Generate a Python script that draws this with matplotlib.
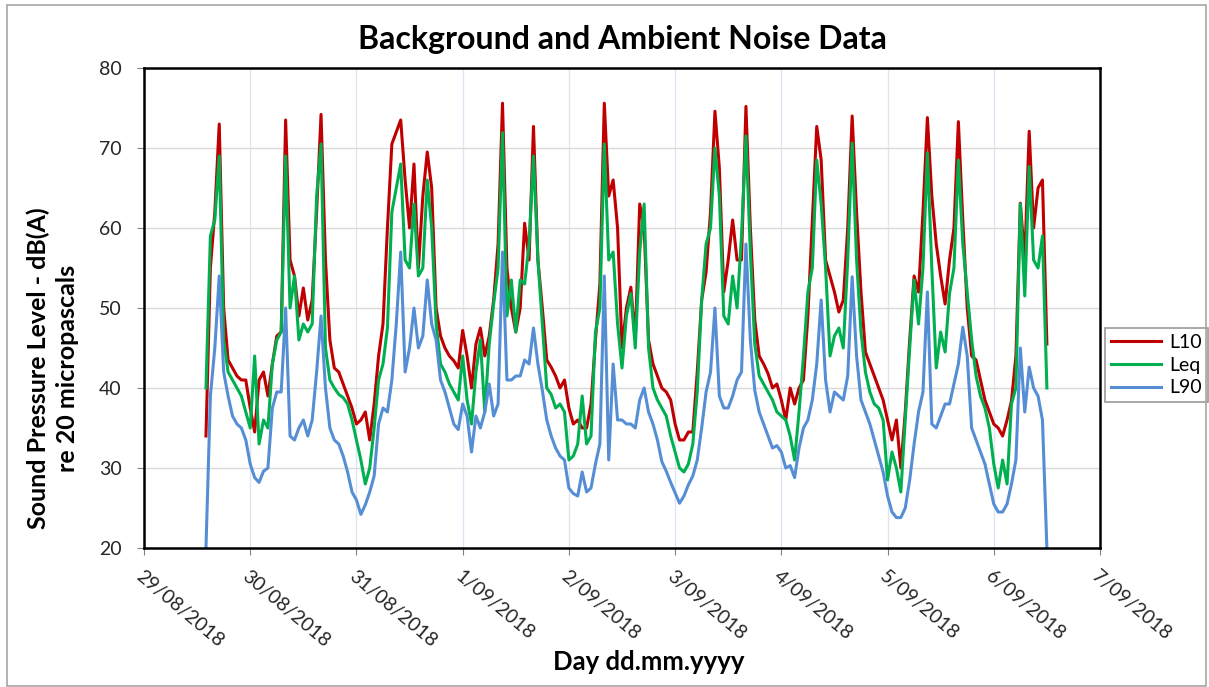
import numpy as np
import pandas as pd
import matplotlib
matplotlib.use("Agg")
import matplotlib.pyplot as plt
import matplotlib.dates as mdates
from matplotlib.ticker import FuncFormatter
from matplotlib.patches import Rectangle

plt.rcParams['font.family'] = ['Lato', 'DejaVu Sans']

# hourly levels, 29/08/2018 14:00 -> 6/09/2018 12:00
start = '2018-08-29 14:00'

l10 = [34, 55, 62, 73, 50, 43.5, 42.5, 41.5, 41, 41,
       37.5, 34.5, 41, 42, 39, 43, 46.5, 47, 73.5, 56, 54, 49,
       52.5, 48.5, 51, 62, 74.2, 56, 46, 42.5, 42, 40.5, 39, 37.5,
       35.5, 36, 37, 33.5, 38, 44, 48, 60, 70.5, 72, 73.5, 66,
       60, 68, 55, 64, 69.5, 65, 50, 46.5, 45, 44, 43.4, 42.5,
       47.2, 44, 40, 45.5, 47.5, 44, 46.5, 51, 58, 75.6, 55, 50,
       47, 50, 60.6, 56, 72.7, 56, 50, 43.5, 42.6, 41.5, 40, 41,
       37.5, 35.5, 36, 35, 35, 38, 46, 53, 75.6, 64, 66, 60,
       45, 50, 52.6, 46, 63, 60, 46, 43, 41.5, 40, 39.5, 38.5,
       35.5, 33.5, 33.5, 34.5, 34.5, 42, 51, 54.5, 62, 74.6, 67.5, 52,
       56, 61, 56, 56, 75.2, 60, 48.5, 44, 43, 41.8, 40, 40.5,
       38.5, 36, 40, 38, 40, 41, 49, 61, 72.7, 68.5, 56, 54,
       52, 49.5, 51, 60, 74, 62, 52, 44.5, 43, 41.5, 40, 38.5,
       36, 33.5, 36, 30, 37, 46, 54, 52, 62, 73.8, 64, 58,
       54, 50.5, 56, 60, 73.3, 61, 50, 44, 43.5, 41, 38.5, 37,
       35.5, 35, 34, 36, 38.4, 44, 63.1, 56, 72.1, 60, 65, 66, 45.5]

leq = [40, 59, 61, 69, 46, 42, 41, 40, 39, 37,
       35, 44, 33, 36, 35, 43, 46, 47, 69, 50, 54, 46,
       48, 47, 48, 64, 70.5, 45, 41, 40, 39.2, 38.8, 38, 36,
       33.5, 31, 28, 30, 35, 41, 43, 47.5, 62, 65, 68, 56,
       55, 63, 54, 55, 66, 60, 48, 43, 42, 40.5, 39.5, 38.5,
       44, 38.5, 35.5, 42, 46, 37, 45.5, 50.5, 55, 71.9, 49, 53.5,
       47, 53.5, 53, 58, 69, 56, 48, 40, 39.2, 37.5, 38, 37,
       31, 31.5, 33, 39, 33, 34, 47, 50, 70.5, 56, 57, 48,
       42.5, 49, 51.8, 45, 57, 63, 45, 40, 38.5, 37.5, 36.5, 34,
       32, 30, 29.5, 30.5, 33, 39.5, 51, 58, 60, 70, 64, 49,
       48, 54, 50, 59, 71.5, 57, 45.5, 41.5, 40.5, 39.5, 38.5, 37,
       36.5, 36, 34, 31, 37, 44, 52, 55, 68.5, 63, 55, 44,
       46.5, 47.5, 45, 56, 70.6, 56, 47, 42, 39.5, 38, 37.5, 36,
       28.5, 32, 30, 27, 36, 45, 53.5, 48, 55, 69.4, 55, 42.5,
       47, 44.5, 51.8, 55, 68.5, 58, 52, 46, 41.5, 39, 37.5, 35,
       30.5, 27.5, 31, 28, 38, 40, 63, 51.5, 67.7, 56, 55, 59, 40]

l90 = [20, 39, 45, 54, 42, 39, 36.5, 35.5, 35, 33.5,
       30.5, 28.8, 28.2, 29.6, 30, 37.5, 39.5, 39.5, 50, 34, 33.5, 35,
       36, 34, 36, 42, 49, 40, 35, 33.5, 33, 31.5, 29.5, 27,
       26, 24.2, 25.4, 27, 29, 35.5, 37.5, 37, 41, 48, 57, 42,
       45, 50, 45, 46.5, 53.5, 48, 46, 41, 39.5, 37.5, 35.5, 34.8,
       38, 36.5, 32, 36.5, 35, 37, 40.5, 36.5, 38, 57, 41, 41,
       41.5, 41.5, 43.5, 43, 47.5, 43, 39.7, 36, 34, 32.5, 31.5, 31,
       27.5, 26.8, 26.5, 29.5, 27, 27.5, 30.5, 33, 54, 31, 43, 36,
       36, 35.5, 35.5, 35, 38.5, 40, 37, 35.5, 33.5, 30.8, 29.6, 28.2,
       26.9, 25.6, 26.5, 27.9, 29, 31, 35, 39.5, 42, 50, 39, 37.5,
       37.5, 39, 41, 42, 58, 46, 39.7, 37, 35.5, 34, 32.5, 32.8,
       32, 30, 30.3, 28.8, 32.5, 35, 36, 38.5, 43, 51, 41, 37,
       39.5, 39, 38.5, 41.5, 53.9, 44, 38.5, 37, 35.5, 33.5, 31.5, 29.5,
       26.5, 24.5, 23.8, 23.8, 25, 28.5, 33, 37, 39.5, 52, 35.5, 35,
       36.5, 38, 38, 40.5, 43, 47.6, 44, 35, 33.5, 32, 30.5, 28,
       25.5, 24.5, 24.5, 25.5, 28, 31, 45, 37, 42.6, 40, 39, 36, 20]

times = pd.date_range(start, periods=len(l10), freq='h')

fig = plt.figure(figsize=(12.09, 6.87), dpi=100)
ax = fig.add_axes([144/1209, 1 - 548/687, (1100 - 144)/1209, (548 - 68)/687])

# chart area border
fig.patches.append(Rectangle((7/1209, 0.002), 1199/1209, 1 - 5/687 - 0.002,
                             transform=fig.transFigure, fill=False,
                             edgecolor='#A6A6A6', linewidth=1.2))

ax.plot(times, l10, color='#C00000', lw=2.2, label='L10')
ax.plot(times, leq, color='#00B050', lw=2.2, label='Leq')
ax.plot(times, l90, color='#558ED5', lw=2.2, label='L90')

ax.set_ylim(20, 80)
ax.set_yticks(np.arange(20, 81, 10))
ax.set_xlim(pd.Timestamp('2018-08-29'), pd.Timestamp('2018-09-07'))
ax.xaxis.set_major_locator(mdates.DayLocator())
ax.xaxis.set_major_formatter(FuncFormatter(
    lambda v, p: f"{mdates.num2date(v).day}/{mdates.num2date(v):%m/%Y}"))

ax.grid(axis='y', color='#D9D9D9', lw=1)
ax.grid(axis='x', color='#DCE6F2', lw=1)
ax.set_axisbelow(True)
for s in ax.spines.values():
    s.set_linewidth(1.8)
    s.set_color('black')

ax.tick_params(axis='both', direction='out', length=5, color='#808080',
               labelsize=14, labelcolor='#262626')
ax.tick_params(axis='y', pad=11)
ax.tick_params(axis='x', pad=9)
for lab in ax.get_xticklabels():
    lab.set_rotation(-40)
    lab.set_ha('left')
    lab.set_va('top')
    lab.set_rotation_mode('anchor')

ax.set_title('Background and Ambient Noise Data', fontsize=23, fontweight='bold', pad=14)
ax.set_xlabel('Day dd.mm.yyyy', fontsize=18.5, fontweight='bold')
ax.xaxis.set_label_coords(0.528, -0.212)
ax.set_ylabel('Sound Pressure Level - dB(A)\nre 20 micropascals', fontsize=18,
              fontweight='bold', linespacing=1.3)
ax.yaxis.set_label_coords(-0.068, 0.375)

leg = ax.legend(loc='center left', bbox_to_anchor=(1105/1209, 1 - 365/687),
                bbox_transform=fig.transFigure, fontsize=14, frameon=True,
                fancybox=False, edgecolor='#808080', handlelength=2.6,
                borderpad=0.3, labelspacing=0.3, handletextpad=0.4,
                borderaxespad=0)
leg.get_frame().set_linewidth(1.2)

fig.savefig('out.png', dpi=100)
